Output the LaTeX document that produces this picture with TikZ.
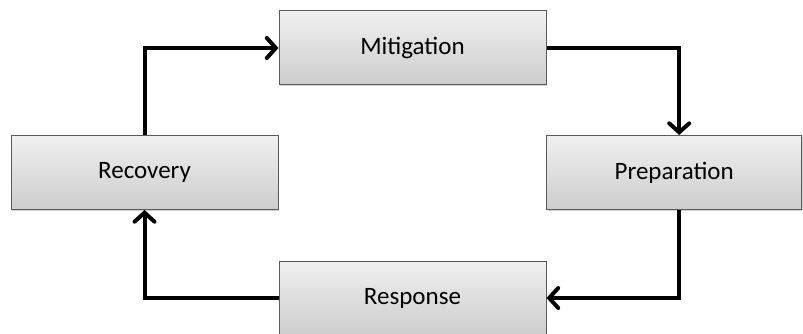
\documentclass[tikz,border=0pt]{standalone}
\usepackage{fontspec}
\setmainfont{Carlito}
\usetikzlibrary{arrows.meta, shadows}

\definecolor{boxtop}{HTML}{F0F0F0}
\definecolor{boxbottom}{HTML}{CDCDCD}
\definecolor{boxline}{HTML}{5A5A5A}

\begin{document}
\begin{tikzpicture}[x=1pt,y=-1pt]
% styles for the phases and the arrows
\tikzset{phase/.style={draw=boxline, line width=1pt, top color=boxtop, bottom color=boxbottom,
    minimum width=267pt, minimum height=74pt, inner sep=0pt,
    font=\fontsize{25}{30}\selectfont,
    drop shadow={shadow xshift=1pt, shadow yshift=-1.5pt, opacity=0.35}}}
\tikzset{flow/.style={line width=4pt, -{Straight Barb[length=9pt, width=20pt, line cap=round]}}}
\useasboundingbox (0,0) rectangle (803,334);
% the four phases
\node[phase] (mit) at (412.5,48) {Mitigation};
\node[phase] (rec) at (144.5,172.5) {Recovery};
\node[phase, minimum width=255pt] (prep) at (674.2,172.5) {Preparation};
\node[phase] (resp) at (412.5,298) {Response};
% the cycle
\draw[flow] (rec.north) |- (mit.west);
\draw[flow] (mit.east) -| ([xshift=5pt]prep.north);
\draw[flow] ([xshift=5pt]prep.south) |- (resp.east);
\draw[flow] (resp.west) -| (rec.south);
\end{tikzpicture}
\end{document}
